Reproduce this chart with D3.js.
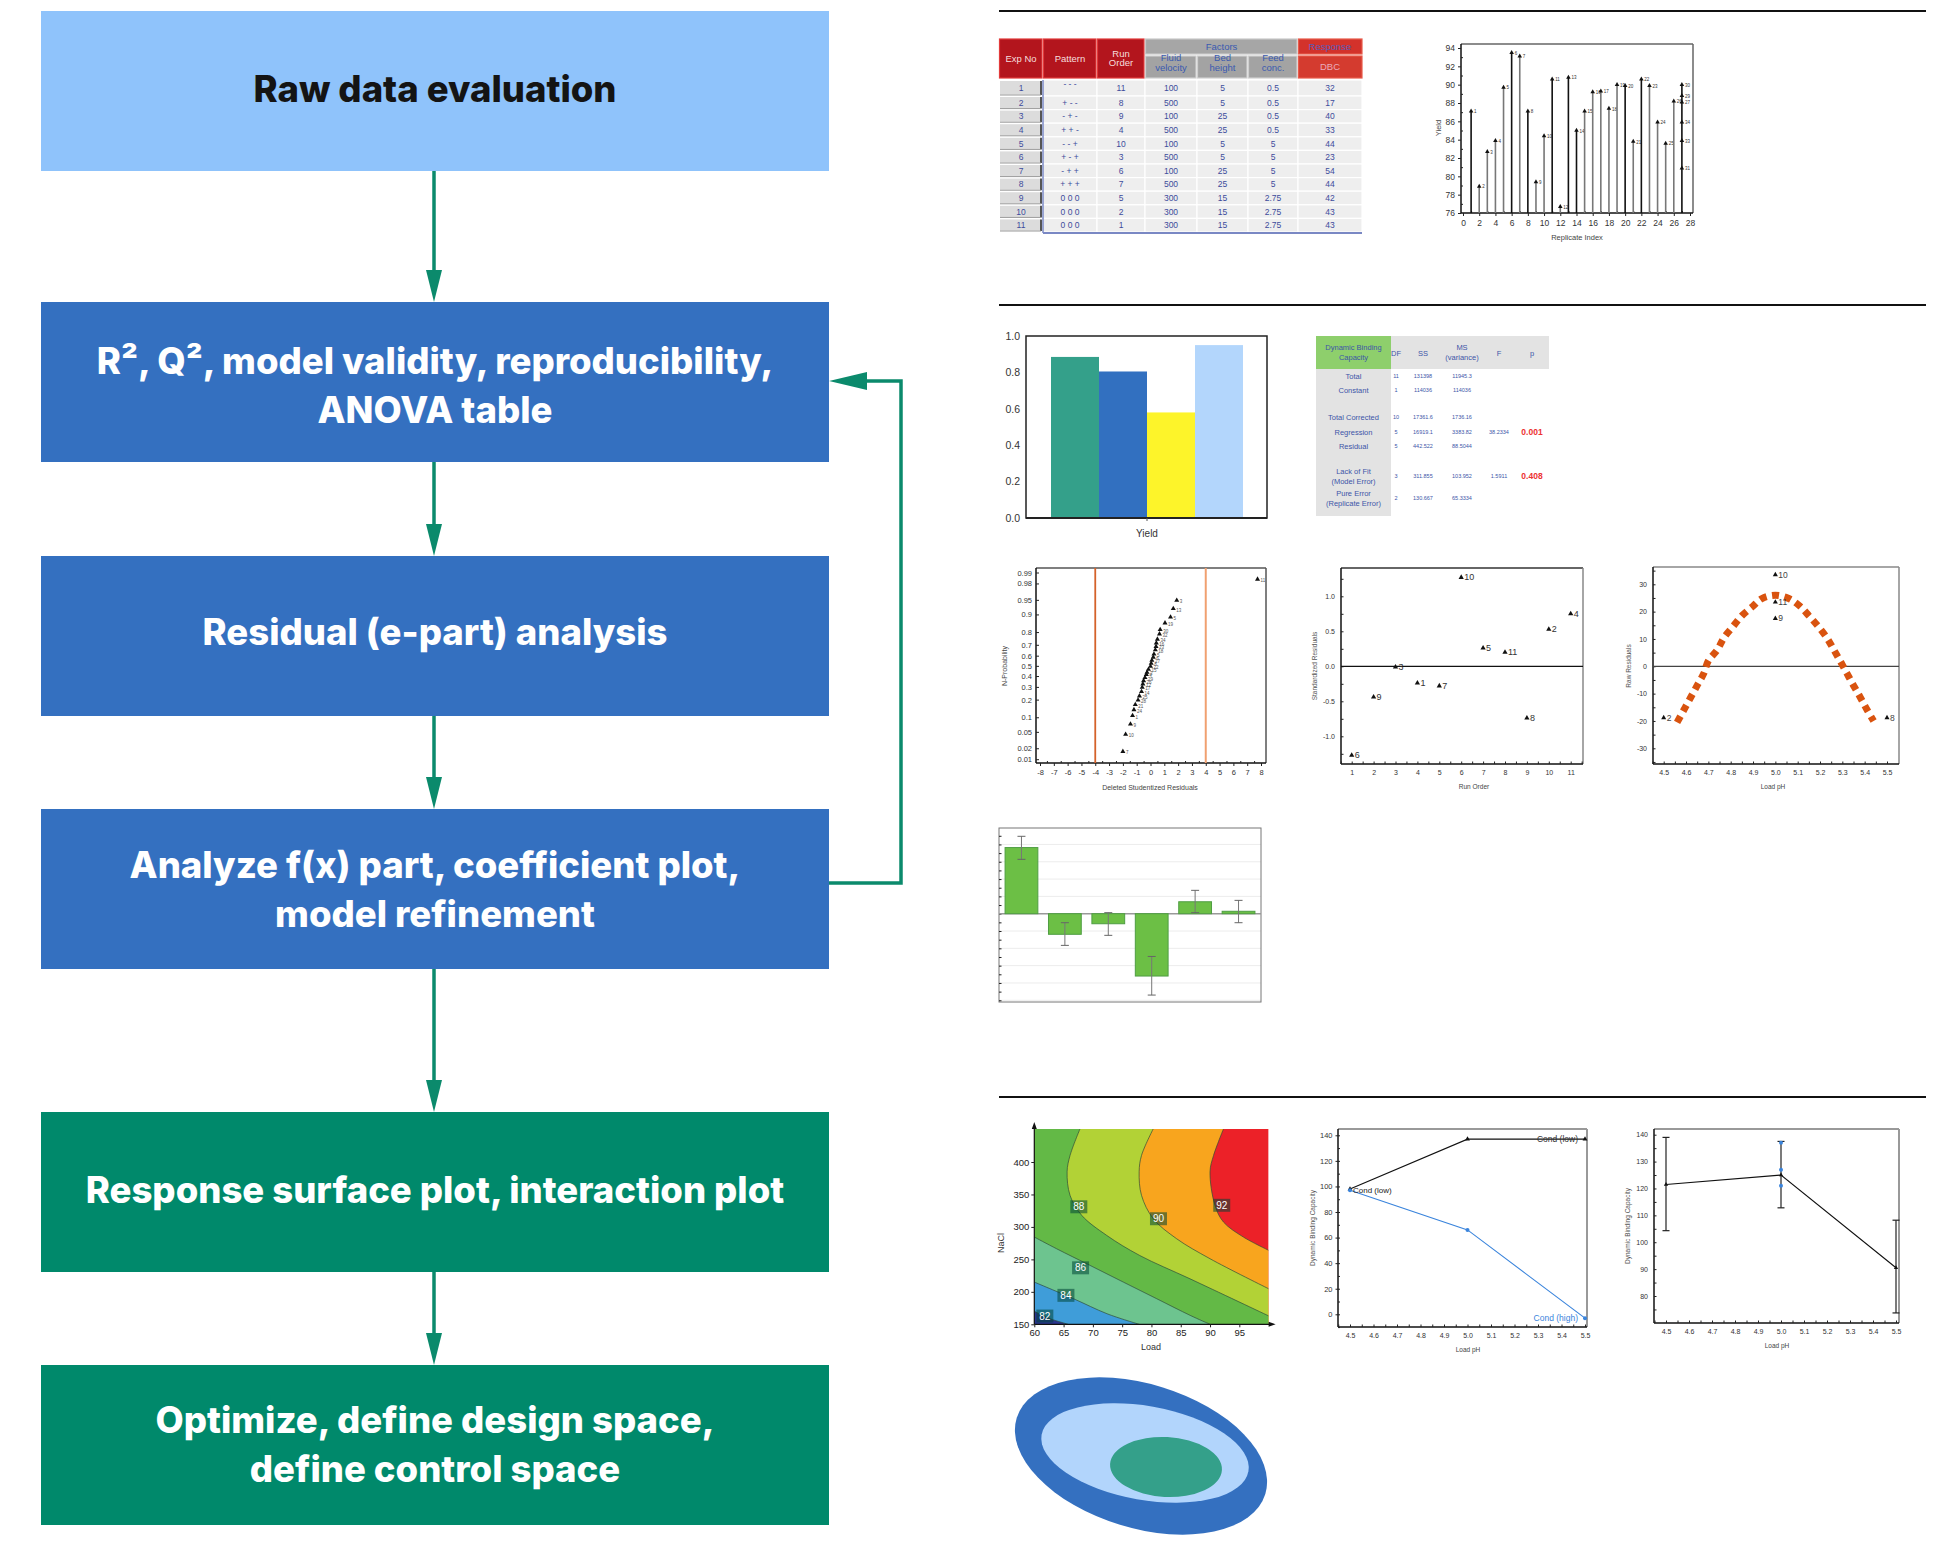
<!DOCTYPE html>
<html><head><meta charset="utf-8">
<script src="https://cdn.jsdelivr.net/npm/d3@7"></script>
<style>body{margin:0;background:#fff}svg{display:block}</style>
</head><body>
<svg id="c" width="1951" height="1550"></svg>
<script>
// ================= DATA =================
const flowLabels = [
  ["Raw data evaluation"],
  ["R\u00B2, Q\u00B2, model validity, reproducibility,", "ANOVA table"],
  ["Residual (e-part) analysis"],
  ["Analyze f(x) part, coefficient plot,", "model refinement"],
  ["Response surface plot, interaction plot"],
  ["Optimize, define design space,", "define control space"]
];

// design table
const expNo = [1,2,3,4,5,6,7,8,9,10,11];
const patterns = ["- - -","+ - -","- + -","+ + -","- - +","+ - +","- + +","+ + +","0 0 0","0 0 0","0 0 0"];
const runOrder = [11,8,9,4,10,3,6,7,5,2,1];
const fluidVelocity = [100,500,100,500,100,500,100,500,300,300,300];
const bedHeight = [5,5,25,25,5,5,25,25,15,15,15];
const feedConc = [0.5,0.5,0.5,0.5,5,5,5,5,2.75,2.75,2.75];
const dbc = [32,17,40,33,44,23,54,44,42,43,43];

// replicate plot
const replicateIndex = [1,2,3,4,5,6,7,8,9,10,11,12,13,14,15,16,17,18,19,20,21,22,23,24,25,26,27,27,27,27,27,27];
const replicateYield = [87.1,78.9,82.7,83.9,89.7,93.5,93.1,87.1,79.4,84.4,90.6,76.7,90.8,85.0,87.1,89.2,89.3,87.4,90.0,89.9,83.8,90.6,89.9,85.9,83.6,88.2,90.0,88.8,88.1,85.9,83.9,80.9];
const replicateLabels = ["1","2","3","4","5","6","7","8","9","10","11","12","13","14","15","16","17","18","19","20","21","22","23","24","25","26","30","29","27","34","33","31"];
const replicateDark = [1,6,8,11,13,14,20,22,27];
const yieldTicks = [76,78,80,82,84,86,88,90,92,94];

// summary of fit
const fitStats = ["R2","Q2","Model validity","Reproducibility"];
const fitValues = [0.885,0.805,0.58,0.95];

// ANOVA
const anovaRows = [["Total"],["Constant"],["Total Corrected"],["Regression"],["Residual"],["Lack of Fit","(Model Error)"],["Pure Error","(Replicate Error)"]];
const anovaDF = ["11","1","10","5","5","3","2"];
const anovaSS = ["131398","114036","17361.6","16919.1","442.522","311.855","130.667"];
const anovaMS = ["11945.3","114036","1736.16","3383.82","88.5044","103.952","65.3334"];
const anovaF = ["","","","38.2334","","1.5911",""];
const anovaP = ["","","","0.001","","0.408",""];

// N-probability plot
const dsResid = [-2.0,-1.8,-1.45,-1.3,-1.2,-1.1,-0.9,-0.8,-0.65,-0.6,-0.55,-0.5,-0.4,-0.3,-0.25,-0.15,0.0,0.05,0.1,0.2,0.25,0.35,0.4,0.42,0.5,0.65,0.7,1.05,1.45,1.65,1.9,7.75];
const dsProb = [0.017,0.045,0.075,0.11,0.14,0.17,0.2,0.23,0.265,0.3,0.33,0.36,0.39,0.42,0.44,0.47,0.5,0.53,0.56,0.59,0.62,0.66,0.69,0.72,0.75,0.79,0.82,0.86,0.89,0.925,0.95,0.985];
const dsLabels = ["7","10","9","1","24","21","28","25","14","17","12","26","29","4","3","15","22","8","27","6","5","18","23","16","34","32","30","19","5","13","3","11"];
const probTicks = [0.01,0.02,0.05,0.1,0.2,0.3,0.4,0.5,0.6,0.7,0.8,0.9,0.95,0.98,0.99];
const dsLimits = [-4,4];

// standardized residuals vs run order
const runOrderX = [1,2,3,4,5,6,7,8,9,10,11];
const stdResid = [-1.27,-0.44,-0.01,-0.24,-0.28,1.27,0.26,0.2,-0.74,0.53,0.75];
const stdLabels = ["6","9","3","1","7","10","5","11","8","2","4"];

// raw residuals vs load pH
const rawPH = [4.5,5.0,5.0,5.0,5.5];
const rawResid = [-18.8,33.5,23.5,17.5,-18.8];
const rawLabels = ["2","10","11","9","8"];
const trendPH = [4.56,4.59,4.62,4.65,4.68,4.70,4.74,4.77,4.81,4.85,4.90,4.94,5.00,5.06,5.11,5.15,5.19,5.23,5.26,5.29,5.32,5.35,5.38,5.41,5.44];
const trendResid = [-20.5,-16,-11.5,-7,-2.5,2,6,10.5,14.5,18.5,22,24.8,26,24.8,22,18.5,14.8,10.5,6.3,2,-2.5,-7,-11.3,-15.8,-20];

// coefficient plot
const coefTerms = ["Fv","Bh","Fc","Fv*Bh","Fv*Fc","Bh*Fc"];
const coefValues = [3.82,-1.19,-0.58,-3.6,0.69,0.14];
const coefLow = [3.14,-1.83,-1.25,-4.7,0.06,-0.52];
const coefHigh = [4.47,-0.52,0.06,-2.47,1.35,0.77];

// contour plot (boundaries read as Load, NaCl pairs)
const contour82 = [[60,170],[62.7,158.6],[65.8,150]];
const contour84 = [[60,215],[66.7,189.4],[72.4,166.3],[77.9,150]];
const contour86 = [[60,284.4],[63.8,266.4],[69.5,240.8],[75.2,215],[80.9,189.4],[86.6,163.8],[90,150]];
const contour88 = [[67.8,451],[66.1,410],[65.6,385],[66.1,348.7],[68.1,317.8],[72.35,287],[78,256],[86.6,220],[100,163]];
const contour90 = [[80.3,451],[78.3,410],[77.9,385],[78.3,348.7],[80.3,312.7],[84.3,281.8],[90,251],[100,204.8]];
const contour92 = [[92.3,451],[90.6,410],[90.0,385],[90.85,333],[92.3,307.5],[95.7,284.4],[100,264]];
const contourLabels = ["82","84","86","88","90","92"];
const contourLabelAt = [[61.8,162.7],[65.4,194.6],[67.9,237],[67.6,331],[81.2,312.6],[92.0,333.3]];

// interaction plot
const loadPH = [4.5,5.0,5.5];
const dbcCondLow = [98,137,137];
const dbcCondHigh = [97,66,-3];

// main effect plot
const dbcMean = [121.5,125,90.5];
const dbcLow = [104.3,112.8,73.7];
const dbcHigh = [139,137.5,108.2];
const dbcReplicatesPH = [5.0,5.0,5.0];
const dbcReplicates = [137,127,121];

// design / control space ellipses (abstract factor units)
const spaceNames = ["Knowledge space","Design space","Control space"];
const spaceCx = [0,0.04,0.25];
const spaceCy = [0,-0.03,0.11];
const spaceRx = [1.30,1.05,0.56];
const spaceRy = [0.72,0.47,0.30];
const spaceAngle = [17,10,3];

// ================= DRAWING =================
const svg = d3.select("#c");
const SANS = "'Liberation Sans', Arial, Helvetica, sans-serif";
svg.append("rect").attr("width",1951).attr("height",1550).attr("fill","#fff");

function axis(g, gen, fs, col){
  g.call(gen);
  g.select(".domain").remove();
  g.selectAll("text").attr("font-family",SANS).attr("font-size",fs).attr("fill",col||"#333");
  g.selectAll("line").attr("stroke","#222");
  return g;
}
function frame(g,x0,y0,x1,y1,opts){
  opts=opts||{};
  g.append("line").attr("x1",x0).attr("x2",x1).attr("y1",y0).attr("y2",y0).attr("stroke",opts.top||"#888").attr("stroke-width",opts.tw||1.5);
  g.append("line").attr("x1",x1).attr("x2",x1).attr("y1",y0).attr("y2",y1).attr("stroke",opts.right||"#888").attr("stroke-width",opts.tw||1.5);
  g.append("line").attr("x1",x0).attr("x2",x1).attr("y1",y1).attr("y2",y1).attr("stroke",opts.bottom||"#111").attr("stroke-width",1.5);
  g.append("line").attr("x1",x0).attr("x2",x0).attr("y1",y0).attr("y2",y1).attr("stroke",opts.left||"#111").attr("stroke-width",1.5);
}
function rotLabel(g,x,y,t,fs,col){
  g.append("text").attr("transform",`translate(${x},${y}) rotate(-90)`).attr("text-anchor","middle")
   .attr("font-family",SANS).attr("font-size",fs).attr("fill",col||"#555").text(t);
}
function label(g,x,y,t,fs,col,anchor){
  return g.append("text").attr("x",x).attr("y",y).attr("text-anchor",anchor||"middle")
   .attr("font-family",SANS).attr("font-size",fs).attr("fill",col||"#444").text(t);
}
const tri = d3.symbol().type(d3.symbolTriangle);
const plain = d=>String(d);
const fix1 = d=>d.toFixed(1);

// ---------- Flowchart ----------
{
  const g = svg.append("g");
  const tops=[11,302,556,809,1112,1365], bh=160, bx=41, bw=788;
  const shift=[0,5,-2,2,0,1];
  const fills=["#8fc3fb","#3470c0","#3470c0","#3470c0","#00896b","#00896b"];
  const tcol=["#141414","#fff","#fff","#fff","#fff","#fff"];
  const AC="#0b8a6c";
  flowLabels.forEach((lines,i)=>{
    g.append("rect").attr("x",bx).attr("y",tops[i]).attr("width",bw).attr("height",bh).attr("fill",fills[i]);
    const cy = tops[i]+bh/2 - 2 + shift[i];
    lines.forEach((t,j)=>{
      g.append("text").attr("x",bx+bw/2).attr("y",cy+(j-(lines.length-1)/2)*49).attr("dy","0.36em")
        .attr("text-anchor","middle").attr("font-family","Inter, 'Open Sans', sans-serif").attr("font-weight",800)
        .attr("font-size",36.5).attr("fill",tcol[i]).text(t);
    });
    if(i<tops.length-1){
      const x=434, y0=tops[i]+bh, y1=tops[i+1];
      g.append("line").attr("x1",x).attr("x2",x).attr("y1",y0).attr("y2",y1-20).attr("stroke",AC).attr("stroke-width",3.5);
      g.append("path").attr("d",`M${x},${y1} L${x-8},${y1-32} L${x+8},${y1-32} Z`).attr("fill",AC);
    }
  });
  // feedback loop
  g.append("path").attr("d","M829,883 L901,883 L901,381 L855,381").attr("fill","none").attr("stroke",AC).attr("stroke-width",3.5);
  g.append("path").attr("d","M829,381 L867,372 L867,390 Z").attr("fill",AC);
}

// separators
[11,305,1097].forEach(y=>svg.append("line").attr("x1",999).attr("x2",1926).attr("y1",y).attr("y2",y).attr("stroke","#111").attr("stroke-width",2));

// ---------- Design table ----------
{
  const g=svg.append("g");
  const ce=[999,1043,1097,1145,1197,1248,1298,1362];
  const TF="'Liberation Sans', Arial, sans-serif";
  const blue="#3d4c9c";
  function cell(x0,y0,x1,y1,fill,stroke){ g.append("rect").attr("x",x0).attr("y",y0).attr("width",x1-x0).attr("height",y1-y0).attr("fill",fill).attr("stroke",stroke||"none").attr("stroke-width",1.2); }
  function txt(x,y,t,fs,col){ g.append("text").attr("x",x).attr("y",y).attr("text-anchor","middle").attr("font-family",TF).attr("font-size",fs).attr("fill",col).text(t); }
  [[0,["Exp No"]],[1,["Pattern"]],[2,["Run","Order"]]].forEach(([c,lines])=>{
    cell(ce[c]+0.5,39,ce[c+1]-1,78,"#b3151d","#e23a3a");
    lines.forEach((t,j)=>txt((ce[c]+ce[c+1])/2, 61.5+(j-(lines.length-1)/2)*9.5, t, 9.5, "#f5dede"));
  });
  cell(ce[3]+0.5,39,ce[6]-1,54,"#a6a6a6","#c8c8c8");
  txt((ce[3]+ce[6])/2,49.5,"Factors",9.5,"#3a5ab0");
  [["Fluid","velocity"],["Bed","height"],["Feed","conc."]].forEach((lines,k)=>{
    const c=3+k;
    cell(ce[c]+0.5,56,ce[c+1]-1,78,"#a3a3a3","#cfcfcf");
    lines.forEach((t,j)=>txt((ce[c]+ce[c+1])/2,66+(j-0.5)*9.5,t,9.5,"#3a5ab0"));
  });
  cell(ce[6]+0.5,39,ce[7],54,"#d3322b","#e85a4a");
  txt((ce[6]+ce[7])/2,49.5,"Response",9.5,"#5a5ab8");
  cell(ce[6]+0.5,56,ce[7],78,"#d43b2f","#e85a4a");
  txt((ce[6]+ce[7])/2,70,"DBC",9.5,"#e9aabb");
  const cols=[expNo,patterns,runOrder,fluidVelocity,bedHeight,feedConc,dbc];
  expNo.forEach((e,r)=>{
    const y0 = r===0?80:96+(r-1)*13.6, y1 = r===0?96:96+r*13.6;
    cols.forEach((arr,c)=>{
      if(c===0){
        cell(ce[0]+1,y0+1,ce[1]-2,y1-1.5,"#dcdcdc","none");
        g.append("line").attr("x1",ce[1]-2).attr("x2",ce[1]-2).attr("y1",y0+1).attr("y2",y1-1).attr("stroke","#555").attr("stroke-width",2);
        g.append("line").attr("x1",ce[0]+1).attr("x2",ce[1]-2).attr("y1",y1-1).attr("y2",y1-1).attr("stroke","#999").attr("stroke-width",1);
      } else {
        cell(ce[c],y0,ce[c+1],y1,"#eeeeee","#ffffff");
      }
      const ty = r===0? (c===1? y0+6.5 : y0+11) : (y0+y1)/2+3;
      txt((ce[c]+ce[c+1])/2, ty, String(arr[r]), 8.5, blue);
    });
  });
  g.append("line").attr("x1",ce[1]).attr("x2",ce[7]).attr("y1",233).attr("y2",233).attr("stroke","#7a88c4").attr("stroke-width",2);
  g.append("line").attr("x1",ce[1]).attr("x2",ce[1]).attr("y1",80).attr("y2",233).attr("stroke","#7a88c4").attr("stroke-width",1.5);
}

// ---------- Replicate plot ----------
{
  const g=svg.append("g");
  const x=d3.scaleLinear([0,28],[1463,1690]), y=d3.scaleLinear([76,94],[213,48]);
  frame(g,1461,44,1693,213,{top:"#666",right:"#666"});
  axis(g.append("g").attr("transform","translate(1461,0)"), d3.axisLeft(y).tickValues(yieldTicks).tickSize(3).tickPadding(3), 8.5);
  axis(g.append("g").attr("transform","translate(1461,0)"), d3.axisRight(y).tickValues(d3.range(77,94,2)).tickSize(2).tickFormat(""), 8);
  axis(g.append("g").attr("transform","translate(0,213)"), d3.axisBottom(x).tickValues(d3.range(0,29,2)).tickSize(3).tickPadding(4), 8.5);
  axis(g.append("g").attr("transform","translate(0,213)"), d3.axisTop(x).tickValues(d3.range(1,28,2)).tickSize(2).tickFormat(""), 8);
  replicateIndex.forEach((xi,i)=>{
    const dark = replicateDark.includes(xi);
    if(xi!==27 || i===replicateIndex.indexOf(27))
      g.append("line").attr("x1",x(xi)).attr("x2",x(xi)).attr("y1",y(76)).attr("y2",y(xi===27?d3.max(replicateYield.filter((v,k)=>replicateIndex[k]===27)):replicateYield[i]))
       .attr("stroke",dark?"#111":"#777").attr("stroke-width",1.6);
    g.append("path").attr("d",tri.size(9)()).attr("transform",`translate(${x(xi)},${y(replicateYield[i])})`).attr("fill","#111");
    label(g,x(xi)+3,y(replicateYield[i])+2,replicateLabels[i],4.5,"#333","start");
  });
  rotLabel(g,1441,128,"Yield",7.5,"#444");
  label(g,1577,240,"Replicate Index",7.5,"#444");
}

// ---------- Summary of fit bars ----------
{
  const g=svg.append("g");
  const y=d3.scaleLinear([0,1],[518,336]);
  const x=d3.scaleBand(fitStats,[1051,1243]).padding(0);
  g.append("rect").attr("x",1026).attr("y",336).attr("width",241).attr("height",182).attr("fill","none").attr("stroke","#222").attr("stroke-width",1.5);
  const cols=["#34a08a","#3270c0","#fdf42a","#b3d6fc"];
  g.selectAll("rect.b").data(fitValues).join("rect").attr("x",(d,i)=>x(fitStats[i])).attr("width",x.bandwidth())
    .attr("y",d=>y(d)).attr("height",d=>y(0)-y(d)).attr("fill",(d,i)=>cols[i]);
  g.append("line").attr("x1",1026).attr("x2",1267).attr("y1",518).attr("y2",518).attr("stroke","#222").attr("stroke-width",2);
  axis(g.append("g").attr("transform","translate(1026,0)"), d3.axisLeft(y).tickValues([0,0.2,0.4,0.6,0.8,1]).tickFormat(d3.format(".1f")).tickSize(0).tickPadding(6), 10.5);
  g.append("line").attr("x1",1147).attr("x2",1147).attr("y1",518).attr("y2",521).attr("stroke","#555");
  label(g,1147,537,"Yield",10,"#333");
}

// ---------- ANOVA table ----------
{
  const g=svg.append("g");
  const blue="#3d55a8";
  g.append("rect").attr("x",1316).attr("y",336).attr("width",233).attr("height",33).attr("fill","#e3e3e3");
  g.append("rect").attr("x",1316).attr("y",336).attr("width",75).attr("height",33).attr("fill","#8ecf6c");
  g.append("rect").attr("x",1316).attr("y",369).attr("width",75).attr("height",147).attr("fill","#e3e3e3");
  label(g,1353.5,350,"Dynamic Binding",7.5,blue); label(g,1353.5,360,"Capacity",7.5,blue);
  const cx={DF:1396,SS:1423,MS:1462,F:1499,p:1532};
  label(g,cx.DF,356,"DF",7.5,blue); label(g,cx.SS,356,"SS",7.5,blue);
  label(g,cx.MS,350,"MS",7.5,blue); label(g,cx.MS,360,"(variance)",7.5,blue);
  label(g,cx.F,356,"F",7.5,blue); label(g,cx.p,356,"p",7.5,blue);
  const rowY=[376,390,417,432,446,476,498];
  anovaRows.forEach((lines,i)=>{
    lines.forEach((t,j)=>label(g,1353.5,rowY[i]+3+(j-(lines.length-1)/2)*10,t,7.5,blue));
    label(g,cx.DF,rowY[i]+2,anovaDF[i],5.5,blue);
    label(g,cx.SS,rowY[i]+2,anovaSS[i],5.5,blue);
    label(g,cx.MS,rowY[i]+2,anovaMS[i],5.5,blue);
    if(anovaF[i]) label(g,cx.F,rowY[i]+2,anovaF[i],5.5,blue);
    if(anovaP[i]) label(g,cx.p,rowY[i]+3,anovaP[i],8.5,"#ec3232").attr("font-weight",700);
  });
}

// ---------- N-probability ----------
function probit(p){
  const a=[-3.969683028665376e+01,2.209460984245205e+02,-2.759285104469687e+02,1.383577518672690e+02,-3.066479806614716e+01,2.506628277459239e+00];
  const b=[-5.447609879822406e+01,1.615858368580409e+02,-1.556989798598866e+02,6.680131188771972e+01,-1.328068155288572e+01];
  const c=[-7.784894002430293e-03,-3.223964580411365e-01,-2.400758277161838e+00,-2.549732539343734e+00,4.374664141464968e+00,2.938163982698783e+00];
  const d=[7.784695709041462e-03,3.224671290700398e-01,2.445134137142996e+00,3.754408661907416e+00];
  const pl=0.02425; let q,r;
  if(p<pl){q=Math.sqrt(-2*Math.log(p));return (((((c[0]*q+c[1])*q+c[2])*q+c[3])*q+c[4])*q+c[5])/((((d[0]*q+d[1])*q+d[2])*q+d[3])*q+1);}
  if(p>1-pl){q=Math.sqrt(-2*Math.log(1-p));return -(((((c[0]*q+c[1])*q+c[2])*q+c[3])*q+c[4])*q+c[5])/((((d[0]*q+d[1])*q+d[2])*q+d[3])*q+1);}
  q=p-0.5;r=q*q;return (((((a[0]*r+a[1])*r+a[2])*r+a[3])*r+a[4])*r+a[5])*q/(((((b[0]*r+b[1])*r+b[2])*r+b[3])*r+b[4])*r+1);
}
{
  const g=svg.append("g");
  const x=d3.scaleLinear([-8,8],[1040,1261]);
  const yz=d3.scaleLinear([probit(0.01),probit(0.99)],[759.7,573]);
  const y=p=>yz(probit(p));
  frame(g,1036,568,1266,763,{top:"#555",right:"#555"});
  const ya=g.append("g").attr("transform","translate(1036,0)");
  probTicks.forEach(p=>{
    ya.append("line").attr("x1",0).attr("x2",3).attr("y1",y(p)).attr("y2",y(p)).attr("stroke","#222");
    ya.append("text").attr("x",-4).attr("y",y(p)+2.5).attr("text-anchor","end").attr("font-family",SANS).attr("font-size",7.5).attr("fill","#333").text(p);
  });
  axis(g.append("g").attr("transform","translate(0,763)"), d3.axisBottom(x).tickValues(d3.range(-8,9,1)).tickFormat(plain).tickSize(3).tickPadding(4), 7.5);
  axis(g.append("g").attr("transform","translate(0,763)"), d3.axisTop(x).tickValues(d3.range(-7.5,8,1)).tickSize(2).tickFormat(""), 7);
  g.append("line").attr("x1",x(dsLimits[0])).attr("x2",x(dsLimits[0])).attr("y1",568).attr("y2",763).attr("stroke","#d4622a").attr("stroke-width",1.8);
  g.append("line").attr("x1",x(dsLimits[1])).attr("x2",x(dsLimits[1])).attr("y1",568).attr("y2",763).attr("stroke","#f0a070").attr("stroke-width",2);
  dsResid.forEach((v,i)=>{
    g.append("path").attr("d",tri.size(11)()).attr("transform",`translate(${x(v)},${y(dsProb[i])})`).attr("fill","#111");
    label(g,x(v)+3,y(dsProb[i])+3,dsLabels[i],4.5,"#555","start");
  });
  rotLabel(g,1007,666,"N-Probability",7,"#444");
  label(g,1150,790,"Deleted Studentized Residuals",7,"#444");
}

// ---------- Standardized residuals ----------
{
  const g=svg.append("g");
  const x=d3.scaleLinear([1,11],[1351.7,1570.7]), y=d3.scaleLinear([-1,1],[736.3,596.3]);
  frame(g,1341,568,1583,764,{top:"#333",right:"#888"});
  axis(g.append("g").attr("transform","translate(1341,0)"), d3.axisLeft(y).tickValues([-1,-0.5,0,0.5,1]).tickFormat(fix1).tickSize(0).tickPadding(6), 7);
  axis(g.append("g").attr("transform","translate(1341,0)"), d3.axisRight(y).tickValues(d3.range(-1.25,1.3,0.25)).tickSize(2.5).tickFormat(""), 7);
  axis(g.append("g").attr("transform","translate(0,764)"), d3.axisBottom(x).tickValues(runOrderX).tickSize(0).tickPadding(6), 7);
  axis(g.append("g").attr("transform","translate(0,764)"), d3.axisTop(x).tickValues(d3.range(0.5,11.6,0.5)).tickSize(2.5).tickFormat(""), 7);
  g.append("line").attr("x1",1341).attr("x2",1583).attr("y1",y(0)).attr("y2",y(0)).attr("stroke","#111").attr("stroke-width",1.2);
  runOrderX.forEach((v,i)=>{
    g.append("path").attr("d",tri.size(12)()).attr("transform",`translate(${x(v)},${y(stdResid[i])})`).attr("fill","#111");
    label(g,x(v)+3,y(stdResid[i])+3,stdLabels[i],9,"#333","start");
  });
  rotLabel(g,1317,666,"Standardized Residuals",6.5,"#555");
  label(g,1474,789,"Run Order",6.5,"#444");
}

// ---------- Raw residuals ----------
{
  const g=svg.append("g");
  const x=d3.scaleLinear([4.5,5.5],[1663.7,1887]), y=d3.scaleLinear([-30,30],[748.3,584.3]);
  frame(g,1653,567,1899,764,{top:"#888",right:"#888"});
  axis(g.append("g").attr("transform","translate(1653,0)"), d3.axisLeft(y).tickValues(d3.range(-30,31,10)).tickFormat(plain).tickSize(0).tickPadding(6), 7);
  axis(g.append("g").attr("transform","translate(1653,0)"), d3.axisRight(y).tickValues(d3.range(-35,36,5)).tickSize(2.5).tickFormat(""), 7);
  axis(g.append("g").attr("transform","translate(0,764)"), d3.axisBottom(x).tickValues(d3.range(4.5,5.51,0.1)).tickFormat(fix1).tickSize(0).tickPadding(6), 7);
  axis(g.append("g").attr("transform","translate(0,764)"), d3.axisTop(x).tickValues(d3.range(4.45,5.53,0.05)).tickSize(2.5).tickFormat(""), 7);
  g.append("line").attr("x1",1653).attr("x2",1899).attr("y1",y(0)).attr("y2",y(0)).attr("stroke","#444").attr("stroke-width",1.2);
  const line=d3.line().x((d,i)=>x(trendPH[i])).y(d=>y(d)).curve(d3.curveCatmullRom);
  g.append("path").attr("d",line(trendResid)).attr("fill","none").attr("stroke","#d9530f").attr("stroke-width",7).attr("stroke-dasharray","7 5.5");
  rawPH.forEach((v,i)=>{
    g.append("path").attr("d",tri.size(11)()).attr("transform",`translate(${x(v)},${y(rawResid[i])})`).attr("fill","#111");
    label(g,x(v)+3,y(rawResid[i])+3,rawLabels[i],8.5,"#444","start");
  });
  rotLabel(g,1631,666,"Raw Residuals",6.5,"#555");
  label(g,1773,789,"Load pH",6.5,"#444");
}

// ---------- Coefficient plot ----------
{
  const g=svg.append("g");
  const y=d3.scaleLinear([-5.1,4.95],[1002,828]);
  const x=d3.scaleBand(coefTerms,[999,1261]).paddingInner(0.245).paddingOuter(0.14);
  d3.range(-5,5,1).forEach(v=>{ if(v!==0) g.append("line").attr("x1",999).attr("x2",1261).attr("y1",y(v)).attr("y2",y(v)).attr("stroke","#ececec").attr("stroke-width",1); });
  g.append("rect").attr("x",999).attr("y",828).attr("width",262).attr("height",174).attr("fill","none").attr("stroke","#777").attr("stroke-width",1);
  axis(g.append("g").attr("transform","translate(999,0)"), d3.axisRight(y).tickValues(d3.range(-5,5,0.5)).tickSize(2.5).tickFormat(""), 7);
  g.append("line").attr("x1",999).attr("x2",1261).attr("y1",y(0)).attr("y2",y(0)).attr("stroke","#999").attr("stroke-width",1.5);
  coefTerms.forEach((t,i)=>{
    const v=coefValues[i];
    g.append("rect").attr("x",x(t)).attr("width",x.bandwidth()).attr("y",y(Math.max(0,v))).attr("height",Math.abs(y(v)-y(0)))
      .attr("fill","#6cbf45").attr("stroke","#4f9e43").attr("stroke-width",1);
    const cxm=x(t)+x.bandwidth()/2;
    g.append("line").attr("x1",cxm).attr("x2",cxm).attr("y1",y(coefLow[i])).attr("y2",y(coefHigh[i])).attr("stroke","#777").attr("stroke-width",1);
    [coefLow[i],coefHigh[i]].forEach(e=>g.append("line").attr("x1",cxm-4).attr("x2",cxm+4).attr("y1",y(e)).attr("y2",y(e)).attr("stroke","#666").attr("stroke-width",1));
  });
}

// ---------- Contour plot ----------
{
  const g=svg.append("g");
  const x=d3.scaleLinear([60,100],[1034.3,1268.6]), y=d3.scaleLinear([150,400],[1324.3,1162]);
  const X0=60,X1=100,Y0=150,Y1=451;
  const clipId="cclip";
  g.append("clipPath").attr("id",clipId).append("rect").attr("x",x(X0)).attr("y",y(Y1)).attr("width",x(X1)-x(X0)).attr("height",y(Y0)-y(Y1));
  const cg=g.append("g").attr("clip-path",`url(#${clipId})`);
  const ln=d3.line().x(d=>x(d[0])).y(d=>y(d[1])).curve(d3.curveCatmullRom);
  const lnLin=d3.line().x(d=>x(d[0])).y(d=>y(d[1]));
  cg.append("rect").attr("x",x(X0)).attr("y",y(Y1)).attr("width",x(X1)-x(X0)).attr("height",y(Y0)-y(Y1)).attr("fill","#ec2128");
  function region(pts,closing,fill){
    const d = ln(pts) + lnLin(closing).replace(/^M/,"L") + "Z";
    cg.append("path").attr("d",d).attr("fill",fill);
  }
  const upper=[[X1,Y0-5],[X0-5,Y0-5],[X0-5,Y1+5]];
  region(contour92,upper,"#f8a51e");
  region(contour90,upper,"#b2d236");
  region(contour88,upper,"#63b946");
  const lower=[[X0-5,Y0-5]];
  region(contour86,lower,"#6dc48f");
  region(contour84,lower,"#3f9dd9");
  region(contour82,lower,"#2a3490");
  [contour82,contour84,contour86,contour88,contour90,contour92].forEach(c=>cg.append("path").attr("d",ln(c)).attr("fill","none").attr("stroke","#2f4d3a").attr("stroke-width",0.7));
  contourLabels.forEach((t,i)=>{
    const px=x(contourLabelAt[i][0]), py=y(contourLabelAt[i][1]);
    cg.append("rect").attr("x",px-8.5).attr("y",py-6.5).attr("width",17).attr("height",13).attr("fill","rgba(0,70,55,0.55)");
    cg.append("text").attr("x",px).attr("y",py+3.5).attr("text-anchor","middle").attr("font-family",SANS).attr("font-size",10).attr("fill","#fff").text(t);
  });
  g.append("line").attr("x1",x(X0)).attr("x2",x(X0)).attr("y1",y(Y0)).attr("y2",y(Y1)-4).attr("stroke","#111").attr("stroke-width",1.2);
  g.append("path").attr("d",`M${x(X0)},${y(Y1)-7} L${x(X0)-2.5},${y(Y1)} L${x(X0)+2.5},${y(Y1)} Z`).attr("fill","#111");
  g.append("line").attr("x1",x(X0)).attr("x2",x(X1)+3).attr("y1",y(Y0)).attr("y2",y(Y0)).attr("stroke","#111").attr("stroke-width",1.2);
  g.append("path").attr("d",`M${x(X1)+7},${y(Y0)} L${x(X1)},${y(Y0)-2.5} L${x(X1)},${y(Y0)+2.5} Z`).attr("fill","#111");
  axis(g.append("g").attr("transform",`translate(${x(X0)},0)`), d3.axisLeft(y).tickValues(d3.range(150,401,50)).tickSize(3).tickPadding(2), 9.5, "#222");
  axis(g.append("g").attr("transform",`translate(0,${y(Y0)})`), d3.axisBottom(x).tickValues(d3.range(60,96,5)).tickSize(3).tickPadding(2), 9.5, "#222");
  rotLabel(g,1004,1243,"NaCl",9,"#333");
  label(g,1151,1350,"Load",9,"#333");
}

// ---------- Interaction plot ----------
{
  const g=svg.append("g");
  const x=d3.scaleLinear([4.5,5.5],[1350,1585]), y=d3.scaleLinear([0,140],[1314.3,1135.3]);
  frame(g,1338,1129,1587,1327,{top:"#999",right:"#999",tw:2});
  axis(g.append("g").attr("transform","translate(1338,0)"), d3.axisLeft(y).tickValues(d3.range(0,141,20)).tickSize(2.5).tickPadding(3), 7.5);
  axis(g.append("g").attr("transform","translate(1338,0)"), d3.axisRight(y).tickValues(d3.range(-10,141,10)).tickSize(2).tickFormat(""), 7);
  axis(g.append("g").attr("transform","translate(0,1327)"), d3.axisBottom(x).tickValues(d3.range(4.5,5.51,0.1)).tickFormat(fix1).tickSize(0).tickPadding(6), 7);
  axis(g.append("g").attr("transform","translate(0,1327)"), d3.axisTop(x).tickValues(d3.range(4.45,5.53,0.05)).tickSize(2.5).tickFormat(""), 7);
  const lnK=d3.line().x((d,i)=>x(loadPH[i])).y(d=>y(d));
  g.append("path").attr("d",lnK(dbcCondLow)).attr("fill","none").attr("stroke","#111").attr("stroke-width",1.1);
  g.append("path").attr("d",lnK(dbcCondHigh)).attr("fill","none").attr("stroke","#3a84dc").attr("stroke-width",1.1);
  loadPH.forEach((v,i)=>{
    g.append("path").attr("d",tri.size(10)()).attr("transform",`translate(${x(v)},${y(dbcCondLow[i])})`).attr("fill","#111");
    g.append("circle").attr("cx",x(v)).attr("cy",y(dbcCondHigh[i])).attr("r",2).attr("fill","#3a84dc");
  });
  label(g,x(4.5)+3,y(97)+3,"Cond (low)",8,"#222","start");
  label(g,x(5.5)-7,y(137)+3,"Cond (low)",8.5,"#333","end");
  label(g,x(5.5)-7,y(-3)+3,"Cond (high)",8.5,"#3a84dc","end");
  rotLabel(g,1315,1228,"Dynamic Binding Capacity",6.5,"#555");
  label(g,1468,1352,"Load pH",6.5,"#444");
}

// ---------- Main effect plot ----------
{
  const g=svg.append("g");
  const x=d3.scaleLinear([4.5,5.5],[1666,1896]), y=d3.scaleLinear([80,140],[1296,1134.7]);
  frame(g,1654,1129,1899,1323,{top:"#999",right:"#999",tw:2});
  axis(g.append("g").attr("transform","translate(1654,0)"), d3.axisLeft(y).tickValues(d3.range(80,141,10)).tickSize(0).tickPadding(6), 7);
  axis(g.append("g").attr("transform","translate(1654,0)"), d3.axisRight(y).tickValues(d3.range(75,141,5)).tickSize(2.5).tickFormat(""), 7);
  axis(g.append("g").attr("transform","translate(0,1323)"), d3.axisBottom(x).tickValues(d3.range(4.5,5.51,0.1)).tickFormat(fix1).tickSize(0).tickPadding(6), 7);
  axis(g.append("g").attr("transform","translate(0,1323)"), d3.axisTop(x).tickValues(d3.range(4.45,5.53,0.05)).tickSize(2.5).tickFormat(""), 7);
  loadPH.forEach((v,i)=>{
    g.append("line").attr("x1",x(v)).attr("x2",x(v)).attr("y1",y(dbcLow[i])).attr("y2",y(dbcHigh[i])).attr("stroke","#222").attr("stroke-width",1.2);
    [dbcLow[i],dbcHigh[i]].forEach(e=>g.append("line").attr("x1",x(v)-3.5).attr("x2",x(v)+3.5).attr("y1",y(e)).attr("y2",y(e)).attr("stroke","#222").attr("stroke-width",1.2));
  });
  g.append("path").attr("d",d3.line().x((d,i)=>x(loadPH[i])).y(d=>y(d))(dbcMean)).attr("fill","none").attr("stroke","#111").attr("stroke-width",1.1);
  loadPH.forEach((v,i)=>g.append("path").attr("d",tri.size(8)()).attr("transform",`translate(${x(v)},${y(dbcMean[i])})`).attr("fill","#111"));
  dbcReplicates.forEach((v,i)=>g.append("circle").attr("cx",x(dbcReplicatesPH[i])).attr("cy",y(v)).attr("r",2).attr("fill","#3a84dc"));
  rotLabel(g,1630,1226,"Dynamic Binding Capacity",6.5,"#555");
  label(g,1777,1348,"Load pH",6.5,"#444");
}

// ---------- Design space ellipses ----------
{
  const g=svg.append("g");
  const sx=d3.scaleLinear([-1.3,1.3],[1011,1271]), sy=d3.scaleLinear([-0.8,0.8],[1376,1536]);
  const fills=["#3470c0","#b2d5fc","#34a08a"];
  spaceNames.forEach((n,i)=>{
    g.append("ellipse").attr("cx",0).attr("cy",0).attr("rx",sx(spaceRx[i])-sx(0)).attr("ry",sy(spaceRy[i])-sy(0))
      .attr("transform",`translate(${sx(spaceCx[i])},${sy(spaceCy[i])}) rotate(${spaceAngle[i]})`).attr("fill",fills[i]);
  });
}
</script>
</body></html>
